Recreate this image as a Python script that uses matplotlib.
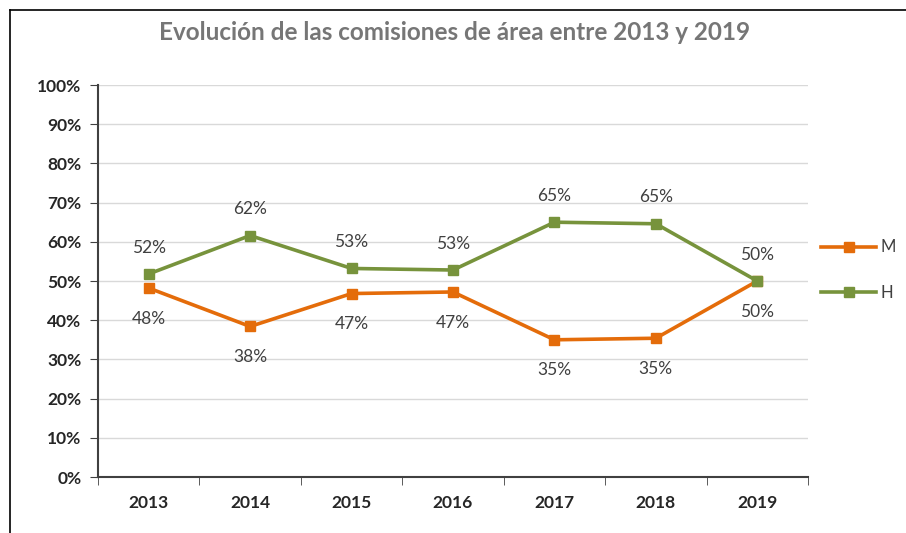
import matplotlib
matplotlib.use("Agg")
import matplotlib.pyplot as plt
from matplotlib.lines import Line2D
import numpy as np

years = ["2013", "2014", "2015", "2016", "2017", "2018", "2019"]
m_vals = [48.2, 38.4, 46.8, 47.2, 35.0, 35.4, 50.0]
h_vals = [51.8, 61.6, 53.2, 52.8, 65.0, 64.6, 50.0]
y_ticks = [0, 10, 20, 30, 40, 50, 60, 70, 80, 90, 100]

plt.rcParams['font.family'] = ['Lato', 'DejaVu Sans']

W, H = 906, 533
fig = plt.figure(figsize=(W / 100, H / 100), dpi=100)
fig.patch.set_facecolor('white')

# outer frame (left and top edges visible)
fig.add_artist(Line2D([10 / W, 10 / W], [0, 1 - 10 / H], color='black', lw=1.2, transform=fig.transFigure))
fig.add_artist(Line2D([10 / W, 1], [1 - 10 / H, 1 - 10 / H], color='black', lw=1.2, transform=fig.transFigure))

left, right = 98 / W, 808 / W
bottom, top = 1 - 477 / H, 1 - 85 / H
ax = fig.add_axes([left, bottom, right - left, top - bottom])

x = np.arange(len(years))
orange = '#E46C0A'
green = '#77933C'

ax.plot(x, m_vals, color=orange, lw=2.6, marker='s', ms=7, label='M', zorder=3)
ax.plot(x, h_vals, color=green, lw=2.6, marker='s', ms=7, label='H', zorder=3)

for xi, v in zip(x, h_vals):
    ax.annotate(f"{v:.0f}%", (xi, v), xytext=(0, 19), textcoords='offset points',
                ha='center', va='center', fontsize=12.5, color='#404040')
for xi, v in zip(x, m_vals):
    ax.annotate(f"{v:.0f}%", (xi, v), xytext=(0, -22), textcoords='offset points',
                ha='center', va='center', fontsize=12.5, color='#404040')

ax.set_xlim(-0.5, len(years) - 0.5)
ax.set_ylim(0, 100)
ax.set_yticks(y_ticks)
ax.set_yticklabels([f"{t}%" for t in y_ticks], fontsize=12.5, fontweight='bold', color='#262626')
ax.set_xticks(x)
ax.set_xticklabels(years, fontsize=12.5, fontweight='bold', color='#262626')
ax.set_xticks(np.arange(-0.5, len(years), 1), minor=True)
ax.tick_params(axis='x', which='major', length=0, pad=13)
ax.tick_params(axis='x', which='minor', length=6, direction='out', color='#404040')
ax.tick_params(axis='y', which='major', length=6, direction='out', color='#404040', pad=6)

ax.grid(axis='y', color='#D9D9D9', lw=1)
ax.set_axisbelow(True)
for s in ['top', 'right']:
    ax.spines[s].set_visible(False)
for s in ['left', 'bottom']:
    ax.spines[s].set_color('#404040')
    ax.spines[s].set_linewidth(1.5)

leg = fig.legend(loc='center left', bbox_to_anchor=(806 / W, 1 - 270 / H), frameon=False,
                 fontsize=12, handlelength=3.3, labelspacing=1.75, handletextpad=0.3,
                 labelcolor='#404040')

fig.text(455 / W, 1 - 32 / H, "Evolución de las comisiones de área entre 2013 y 2019",
         ha='center', va='center', fontsize=17.5, fontweight='bold', color='#767676')

fig.savefig('out.png', dpi=100)
